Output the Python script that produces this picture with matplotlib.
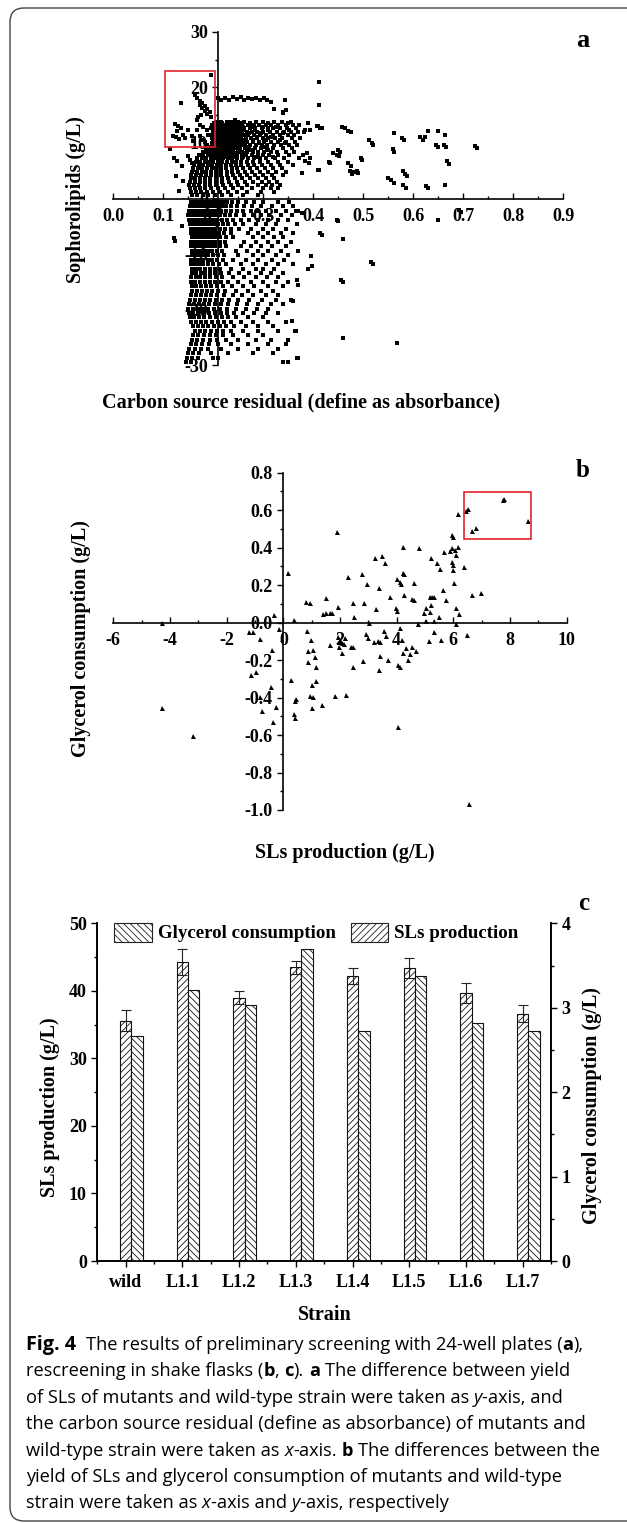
import numpy as np
import matplotlib
matplotlib.use('Agg')
import matplotlib.pyplot as plt
from matplotlib.patches import Rectangle, FancyBboxPatch
from matplotlib.transforms import IdentityTransform
from matplotlib.ticker import MultipleLocator, FormatStrFormatter

plt.rcParams['font.family'] = 'Liberation Serif'
plt.rcParams['font.weight'] = 'bold'
plt.rcParams['axes.unicode_minus'] = False
plt.rcParams['hatch.linewidth'] = 0.6

W, H = 627, 1523

# ---------------- panel a: rows of points (y, x values) ----------------
a_rows = [
    (13.8, [0.205, 0.215, 0.228, 0.236, 0.25, 0.262, 0.285, 0.30, 0.322, 0.338, 0.356]),
    (13.5, [0.201, 0.209, 0.218, 0.232, 0.244, 0.256, 0.274, 0.31, 0.35]),
    (13.2, [0.198, 0.203, 0.211, 0.219, 0.226, 0.233, 0.241, 0.249, 0.258, 0.27, 0.281, 0.292, 0.305, 0.316, 0.33, 0.345, 0.36, 0.372]),
    (12.9, [0.2, 0.207, 0.215, 0.224, 0.231, 0.238, 0.245, 0.252, 0.26, 0.277, 0.3, 0.326]),
    (12.6, [0.196, 0.202, 0.208, 0.214, 0.221, 0.228, 0.234, 0.24, 0.247, 0.254, 0.262, 0.273, 0.284, 0.297, 0.309, 0.32, 0.334, 0.348, 0.365]),
    (12.3, [0.202, 0.209, 0.216, 0.225, 0.232, 0.239, 0.246, 0.253, 0.262, 0.283, 0.31, 0.352]),
    (12.0, [0.199, 0.205, 0.211, 0.217, 0.223, 0.229, 0.236, 0.243, 0.25, 0.258, 0.267, 0.278, 0.288, 0.30, 0.313, 0.327, 0.341, 0.355, 0.37, 0.381]),
    (11.7, [0.201, 0.208, 0.214, 0.221, 0.228, 0.235, 0.242, 0.249, 0.257, 0.272, 0.296, 0.34]),
    (11.4, [0.196, 0.201, 0.207, 0.213, 0.219, 0.225, 0.232, 0.238, 0.245, 0.253, 0.261, 0.27, 0.282, 0.293, 0.306, 0.319, 0.333, 0.35, 0.362]),
    (11.1, [0.2, 0.207, 0.213, 0.22, 0.227, 0.233, 0.24, 0.247, 0.255, 0.266, 0.288, 0.315]),
    (10.8, [0.198, 0.204, 0.21, 0.216, 0.222, 0.228, 0.235, 0.241, 0.248, 0.256, 0.265, 0.276, 0.287, 0.299, 0.31, 0.324, 0.338, 0.357, 0.374]),
    (10.5, [0.202, 0.209, 0.215, 0.221, 0.227, 0.234, 0.241, 0.249, 0.258, 0.279, 0.305, 0.333]),
    (10.2, [0.20, 0.206, 0.212, 0.218, 0.224, 0.23, 0.237, 0.244, 0.251, 0.259, 0.268, 0.28, 0.291, 0.302, 0.316, 0.33, 0.346, 0.364]),
    (9.9, [0.199, 0.206, 0.212, 0.218, 0.225, 0.232, 0.239, 0.247, 0.262, 0.292, 0.344]),
    (9.6, [0.197, 0.203, 0.209, 0.215, 0.221, 0.227, 0.233, 0.24, 0.247, 0.255, 0.264, 0.274, 0.285, 0.297, 0.308, 0.322, 0.336, 0.352, 0.368]),
    (9.3, [0.195, 0.202, 0.208, 0.214, 0.221, 0.228, 0.235, 0.243, 0.251, 0.268, 0.3]),
    (9.0, [0.185, 0.192, 0.199, 0.205, 0.211, 0.217, 0.224, 0.231, 0.238, 0.246, 0.254, 0.263, 0.272, 0.283, 0.295, 0.307, 0.32, 0.34, 0.358]),
    (8.7, [0.196, 0.203, 0.21, 0.217, 0.224, 0.232, 0.24, 0.253, 0.276, 0.31]),
    (8.4, [0.18, 0.188, 0.196, 0.203, 0.21, 0.217, 0.224, 0.232, 0.24, 0.249, 0.258, 0.268, 0.279, 0.29, 0.302, 0.315, 0.328, 0.345, 0.362]),
    (8.1, [0.2, 0.207, 0.214, 0.221, 0.229, 0.237, 0.245, 0.262, 0.29]),
    (7.8, [0.172, 0.18, 0.19, 0.198, 0.206, 0.213, 0.221, 0.229, 0.238, 0.247, 0.257, 0.266, 0.277, 0.289, 0.30, 0.312, 0.33, 0.352, 0.38]),
    (7.5, [0.202, 0.21, 0.218, 0.226, 0.234, 0.243, 0.26, 0.285, 0.32]),
    (7.2, [0.168, 0.177, 0.186, 0.195, 0.203, 0.211, 0.22, 0.229, 0.238, 0.248, 0.258, 0.27, 0.281, 0.293, 0.306, 0.323, 0.341, 0.372]),
    (6.6, [0.165, 0.174, 0.183, 0.192, 0.20, 0.209, 0.218, 0.227, 0.237, 0.246, 0.256, 0.267, 0.28, 0.294, 0.31, 0.329, 0.35]),
    (6.0, [0.162, 0.171, 0.18, 0.189, 0.198, 0.207, 0.216, 0.226, 0.235, 0.245, 0.256, 0.269, 0.282, 0.297, 0.315, 0.334, 0.36]),
    (5.4, [0.16, 0.169, 0.178, 0.188, 0.197, 0.206, 0.216, 0.226, 0.237, 0.248, 0.26, 0.273, 0.288, 0.304, 0.32, 0.338]),
    (4.8, [0.158, 0.167, 0.177, 0.186, 0.196, 0.206, 0.216, 0.227, 0.238, 0.25, 0.263, 0.278, 0.294, 0.31, 0.326, 0.345]),
    (4.2, [0.156, 0.165, 0.175, 0.185, 0.195, 0.205, 0.216, 0.228, 0.24, 0.253, 0.268, 0.284, 0.30, 0.318, 0.34]),
    (3.6, [0.155, 0.164, 0.174, 0.184, 0.194, 0.205, 0.217, 0.23, 0.244, 0.258, 0.274, 0.29, 0.306, 0.322]),
    (3.0, [0.154, 0.163, 0.173, 0.183, 0.194, 0.205, 0.218, 0.232, 0.247, 0.263, 0.28, 0.298, 0.312, 0.328]),
    (2.4, [0.152, 0.162, 0.172, 0.183, 0.194, 0.206, 0.22, 0.235, 0.25, 0.268, 0.29, 0.305, 0.318, 0.333]),
    (1.8, [0.153, 0.163, 0.173, 0.184, 0.196, 0.209, 0.224, 0.24, 0.258, 0.278, 0.30, 0.315, 0.33]),
    (1.2, [0.155, 0.165, 0.176, 0.188, 0.20, 0.214, 0.23, 0.248, 0.268, 0.296, 0.322]),
    (0.6, [0.158, 0.168, 0.179, 0.19, 0.203, 0.218, 0.236, 0.26, 0.29]),
    (-0.6, [0.155, 0.163, 0.171, 0.179, 0.187, 0.195, 0.203, 0.211, 0.219, 0.228, 0.238, 0.25, 0.265, 0.282, 0.30, 0.33, 0.352]),
    (-1.4, [0.153, 0.161, 0.169, 0.177, 0.185, 0.193, 0.201, 0.209, 0.217, 0.226, 0.236, 0.248, 0.262, 0.278, 0.296, 0.318, 0.34, 0.36]),
    (-2.2, [0.152, 0.16, 0.168, 0.176, 0.184, 0.192, 0.20, 0.208, 0.216, 0.225, 0.235, 0.247, 0.26, 0.275, 0.29, 0.305, 0.325, 0.345, 0.37]),
    (-3.0, [0.15, 0.158, 0.166, 0.174, 0.182, 0.19, 0.198, 0.206, 0.214, 0.223, 0.233, 0.245, 0.262, 0.28, 0.296, 0.312, 0.335, 0.358]),
    (-3.8, [0.152, 0.16, 0.168, 0.176, 0.184, 0.192, 0.20, 0.208, 0.217, 0.227, 0.24, 0.256, 0.272, 0.29, 0.31, 0.33, 0.35]),
    (-4.6, [0.154, 0.162, 0.17, 0.178, 0.186, 0.194, 0.202, 0.21, 0.219, 0.23, 0.244, 0.26, 0.285, 0.305, 0.325, 0.368]),
    (-5.4, [0.156, 0.164, 0.172, 0.18, 0.188, 0.196, 0.204, 0.213, 0.223, 0.236, 0.252, 0.275, 0.30, 0.32, 0.345]),
    (-6.2, [0.155, 0.163, 0.171, 0.179, 0.187, 0.195, 0.203, 0.212, 0.222, 0.235, 0.27, 0.29, 0.31, 0.335, 0.36]),
    (-7.0, [0.157, 0.165, 0.173, 0.181, 0.189, 0.197, 0.205, 0.214, 0.225, 0.24, 0.28, 0.30, 0.322, 0.34]),
    (-7.8, [0.156, 0.164, 0.172, 0.18, 0.188, 0.196, 0.204, 0.213, 0.224, 0.262, 0.285, 0.31, 0.33, 0.355]),
    (-8.6, [0.155, 0.163, 0.171, 0.179, 0.187, 0.195, 0.204, 0.214, 0.226, 0.255, 0.275, 0.295, 0.318, 0.345]),
    (-9.4, [0.157, 0.165, 0.173, 0.181, 0.189, 0.198, 0.207, 0.218, 0.245, 0.268, 0.29, 0.31, 0.335, 0.37]),
    (-10.2, [0.158, 0.166, 0.174, 0.182, 0.19, 0.199, 0.209, 0.222, 0.25, 0.28, 0.30, 0.326, 0.35]),
    (-11.0, [0.156, 0.164, 0.172, 0.18, 0.189, 0.198, 0.208, 0.22, 0.24, 0.265, 0.29, 0.318, 0.342]),
    (-11.8, [0.155, 0.163, 0.171, 0.18, 0.19, 0.20, 0.211, 0.225, 0.255, 0.28, 0.305, 0.33, 0.36]),
    (-12.6, [0.157, 0.165, 0.174, 0.183, 0.193, 0.203, 0.214, 0.235, 0.26, 0.285, 0.30, 0.322]),
    (-13.4, [0.158, 0.166, 0.175, 0.184, 0.194, 0.204, 0.216, 0.232, 0.252, 0.272, 0.295, 0.315, 0.34]),
    (-14.2, [0.156, 0.165, 0.174, 0.184, 0.194, 0.205, 0.218, 0.24, 0.262, 0.285, 0.308, 0.33]),
    (-15.0, [0.155, 0.164, 0.173, 0.183, 0.193, 0.204, 0.216, 0.23, 0.25, 0.275, 0.30, 0.325, 0.35]),
    (-15.8, [0.157, 0.166, 0.175, 0.185, 0.196, 0.207, 0.22, 0.238, 0.26, 0.282, 0.31, 0.34]),
    (-16.6, [0.158, 0.167, 0.177, 0.187, 0.198, 0.21, 0.224, 0.245, 0.27, 0.295, 0.32]),
    (-17.4, [0.156, 0.165, 0.175, 0.185, 0.196, 0.208, 0.222, 0.24, 0.258, 0.28, 0.305, 0.33]),
    (-18.2, [0.154, 0.163, 0.173, 0.183, 0.194, 0.206, 0.218, 0.232, 0.25, 0.272, 0.298, 0.325, 0.355]),
    (-19.0, [0.152, 0.161, 0.171, 0.181, 0.192, 0.204, 0.216, 0.23, 0.248, 0.268, 0.29, 0.315, 0.34]),
    (-19.8, [0.15, 0.159, 0.169, 0.179, 0.19, 0.202, 0.214, 0.228, 0.245, 0.265, 0.288, 0.31]),
    (-20.6, [0.151, 0.16, 0.17, 0.18, 0.191, 0.203, 0.215, 0.228, 0.242, 0.26, 0.282, 0.305, 0.33]),
    (-21.4, [0.153, 0.162, 0.172, 0.182, 0.193, 0.205, 0.217, 0.23, 0.245, 0.27, 0.30]),
    (-22.2, [0.156, 0.165, 0.175, 0.186, 0.197, 0.209, 0.221, 0.235, 0.255, 0.28, 0.31, 0.345]),
    (-23.0, [0.16, 0.169, 0.179, 0.19, 0.201, 0.213, 0.226, 0.242, 0.265, 0.29, 0.32]),
    (-23.8, [0.163, 0.173, 0.184, 0.195, 0.207, 0.22, 0.236, 0.26, 0.29, 0.33, 0.365]),
    (-24.6, [0.16, 0.17, 0.181, 0.193, 0.206, 0.22, 0.24, 0.27, 0.30]),
    (-25.4, [0.158, 0.168, 0.18, 0.193, 0.208, 0.225, 0.25, 0.285, 0.315, 0.35]),
    (-26.2, [0.155, 0.166, 0.178, 0.192, 0.21, 0.235, 0.27, 0.31, 0.345]),
    (-27.0, [0.152, 0.163, 0.176, 0.19, 0.215, 0.25, 0.29, 0.33]),
    (-27.8, [0.15, 0.16, 0.172, 0.195, 0.23, 0.28, 0.32]),
    (-28.6, [0.148, 0.158, 0.17, 0.20, 0.21, 0.37]),
    (-29.4, [0.146, 0.156, 0.34, 0.35]),
]

# scattered points of panel a (outside the dense rows)
a_extra_x = [0.195, 0.412, 0.135, 0.163, 0.168, 0.173, 0.178, 0.183, 0.188, 0.193,
             0.173, 0.178, 0.183, 0.188, 0.195, 0.21, 0.216, 0.224, 0.231, 0.24,
             0.247, 0.255, 0.262, 0.27, 0.278, 0.286, 0.293, 0.301, 0.308, 0.316,
             0.343, 0.412, 0.322, 0.34, 0.345, 0.243, 0.339, 0.41, 0.414, 0.457,
             0.411, 0.431, 0.39, 0.123, 0.13, 0.135, 0.127, 0.12, 0.125, 0.132,
             0.14, 0.143, 0.15, 0.157, 0.16, 0.167, 0.173, 0.18, 0.187, 0.19,
             0.197, 0.197, 0.173, 0.177, 0.183, 0.188, 0.167, 0.17, 0.175, 0.113,
             0.121, 0.127, 0.137, 0.125, 0.14, 0.132, 0.15, 0.153, 0.157, 0.16,
             0.167, 0.383, 0.393, 0.407, 0.417, 0.44, 0.387, 0.393, 0.41, 0.377,
             0.433, 0.47, 0.383, 0.392, 0.463, 0.47, 0.475, 0.45, 0.453, 0.448,
             0.452, 0.47, 0.475, 0.495, 0.497, 0.473, 0.477, 0.481, 0.487, 0.49,
             0.512, 0.517, 0.52, 0.562, 0.577, 0.581, 0.559, 0.562, 0.55, 0.555,
             0.561, 0.579, 0.583, 0.587, 0.58, 0.585, 0.613, 0.619, 0.623, 0.629,
             0.649, 0.663, 0.645, 0.65, 0.661, 0.665, 0.668, 0.672, 0.625, 0.63,
             0.663, 0.723, 0.728, 0.447, 0.45, 0.649, 0.692, 0.695, 0.459, 0.515,
             0.519, 0.455, 0.459, 0.459, 0.568, 0.413, 0.395, 0.398, 0.39, 0.367,
             0.37, 0.36, 0.357, 0.363, 0.367, 0.365, 0.377, 0.417, 0.121, 0.123,
             0.137]
a_extra_y = [22.3, 20.9, 17.1, 18.6, 18.1, 17.6, 17.1, 16.6, 16.1, 15.6,
             16.8, 16.2, 15.7, 15.2, 14.6, 18.0, 17.8, 18.1, 17.7, 18.2,
             17.9, 18.3, 17.8, 18.1, 17.9, 18.0, 17.7, 18.1, 17.8, 17.4,
             17.7, 16.9, 16.1, 15.6, 15.9, 14.2, 15.4, 13.0, 12.6, 12.8,
             5.2, 6.5, 13.6, 13.4, 13.0, 12.7, 12.1, 11.3, 11.1, 10.7,
             11.5, 10.9, 12.4, 11.2, 10.3, 12.4, 13.3, 12.9, 12.4, 11.5,
             10.9, 10.0, 11.2, 10.6, 10.1, 9.7, 14.2, 14.7, 15.0, 8.9,
             7.3, 6.8, 5.8, 4.0, 3.1, 1.3, 7.7, 7.0, 6.4, 5.2,
             4.6, 12.4, 12.4, 13.0, 12.7, 8.2, 8.2, 7.3, 5.2, 4.6,
             6.4, 6.4, 6.7, 6.4, 12.6, 12.2, 11.9, 8.8, 8.3, 7.9,
             7.6, 6.3, 5.9, 7.3, 6.9, 4.9, 4.4, 4.7, 5.0, 4.6,
             10.5, 10.0, 9.6, 11.7, 10.9, 10.5, 8.9, 8.3, 3.7, 3.3,
             2.7, 4.9, 4.4, 4.0, 2.4, 1.9, 11.1, 10.6, 11.1, 12.1,
             12.2, 11.5, 9.7, 9.2, 9.7, 9.3, 6.7, 6.2, 2.2, 1.8,
             2.5, 9.5, 9.05, -3.8, -4.1, -3.9, -2.0, -2.5, -7.3, -11.4,
             -11.8, -14.6, -15.0, -25.1, -26.0, -6.2, -10.4, -12.2, -12.6, -14.6,
             -15.5, -18.5, -22.1, -23.9, -28.7, -2.2, -2.6, -6.6, -7.1, -7.7,
             -5.0]
a_box = (0.104, 9.3, 0.203, 22.9)   # highlighted region (x0, y0, x1, y1)

# ---------------- panel b ----------------
b_x = [-4.28, -4.28, -3.17, -1.21, -1.07, -0.82, -1.13, -0.96, -0.82, -0.75,
       -0.42, -0.40, -0.25, -0.35, -0.32, -0.16, 0.17, 0.38, 0.28, 0.42,
       0.45, 0.38, 0.42, 0.80, 0.95, 0.85, 0.87, 0.87, 0.99, 1.04,
       1.11, 1.16, 1.02, 1.04, 0.95, 1.02, 1.16, 1.37, 1.41, 1.51,
       1.65, 1.51, 1.72, 1.65, 1.83, 1.90, 1.93, 1.93, 2.00, 2.07,
       1.98, 2.07, 2.17, 2.14, 2.22, 2.29, 2.40, 2.45, 2.47, 2.50,
       2.47, 2.78, 2.85, 2.82, 2.95, 2.92, 2.99, 3.03, 3.20, 3.23,
       3.27, 3.34, 3.41, 3.39, 3.41, 3.39, 3.49, 3.56, 3.63, 3.60,
       3.70, 3.77, 3.98, 4.02, 4.02, 4.12, 4.16, 4.05, 4.12, 4.12,
       4.19, 4.22, 4.22, 4.26, 4.26, 4.23, 4.05, 4.33, 4.40, 4.47,
       4.54, 4.61, 4.54, 4.61, 4.68, 4.76, 4.80, 4.97, 5.04, 5.04,
       5.14, 5.18, 5.25, 5.32, 5.22, 5.22, 5.18, 5.32, 5.32, 5.43,
       5.50, 5.53, 5.56, 5.64, 5.67, 5.74, 5.88, 5.95, 5.95, 6.00,
       5.95, 6.00, 6.00, 6.02, 6.05, 6.10, 6.10, 6.10, 6.17, 6.17,
       6.21, 6.38, 6.45, 6.52, 6.49, 6.55, 6.66, 6.80, 6.66, 6.98,
       7.76, 7.77, 8.63]
b_y = [0.0, -0.457, -0.605, -0.048, -0.048, -0.089, -0.279, -0.261, -0.395, -0.471,
       -0.342, -0.146, -0.448, -0.528, 0.041, -0.036, 0.263, 0.014, -0.306, -0.42,
       -0.41, -0.49, -0.51, 0.112, 0.107, -0.043, -0.149, -0.208, -0.093, -0.146,
       -0.181, -0.235, -0.333, -0.398, -0.391, -0.457, -0.31, -0.439, 0.046, 0.053,
       0.05, 0.133, 0.05, -0.119, -0.391, 0.486, 0.085, -0.075, -0.093, -0.11,
       -0.128, -0.164, -0.084, -0.114, -0.386, 0.245, -0.128, -0.128, 0.107, 0.032,
       -0.235, 0.26, 0.107, -0.203, 0.205, -0.062, -0.084, 0.0, -0.101, 0.343,
       0.071, -0.098, -0.101, 0.183, -0.178, -0.253, 0.356, -0.044, -0.071, 0.317,
       -0.199, 0.139, 0.076, 0.064, 0.231, 0.215, 0.205, -0.226, -0.235, -0.03,
       -0.093, 0.406, 0.267, 0.258, 0.148, -0.164, -0.555, -0.133, -0.199, -0.167,
       0.126, 0.121, -0.132, 0.21, -0.149, -0.009, 0.40, 0.053, 0.076, 0.009,
       -0.098, 0.139, 0.139, 0.135, 0.343, 0.094, 0.059, 0.009, -0.048, 0.32,
       0.032, 0.285, -0.093, 0.174, 0.375, 0.121, 0.382, 0.40, 0.468, 0.459,
       0.326, 0.308, 0.281, 0.213, 0.388, 0.361, 0.076, -0.007, 0.406, 0.578,
       0.046, 0.299, 0.598, 0.605, -0.066, -0.968, 0.491, 0.503, 0.148, 0.157,
       0.655, 0.662, 0.544]
b_box = (6.38, 0.445, 8.73, 0.695)

# ---------------- panel c ----------------
strains = ['wild', 'L1.1', 'L1.2', 'L1.3', 'L1.4', 'L1.5', 'L1.6', 'L1.7']
sls_prod = [35.6, 44.25, 39.0, 43.47, 42.18, 43.4, 39.65, 36.6]
sls_err = [1.5, 1.9, 1.0, 0.95, 1.24, 1.5, 1.45, 1.25]
gly_cons = [2.668, 3.213, 3.036, 3.696, 2.72, 3.375, 2.814, 2.723]

caption = [
    [('Fig. 4', 'B'), ('  The results of preliminary screening with 24-well plates (', 'n'), ('a', 'b'), ('),', 'n')],
    [('rescreening in shake flasks (', 'n'), ('b', 'b'), (', ', 'n'), ('c', 'b'), ('). ', 'n'), ('a', 'b'),
     (' The difference between yield', 'n')],
    [('of SLs of mutants and wild-type strain were taken as ', 'n'), ('y', 'i'), ('-axis, and', 'n')],
    [('the carbon source residual (define as absorbance) of mutants and', 'n')],
    [('wild-type strain were taken as ', 'n'), ('x', 'i'), ('-axis. ', 'n'), ('b', 'b'),
     (' The differences between the', 'n')],
    [('yield of SLs and glycerol consumption of mutants and wild-type', 'n')],
    [('strain were taken as ', 'n'), ('x', 'i'), ('-axis and ', 'n'), ('y', 'i'), ('-axis, respectively', 'n')],
]

TICK = 13
LAB = 14.5

fig = plt.figure(figsize=(W / 100, H / 100), dpi=100)


def box(x0, y0, x1, y1):
    # pixel box with top-left origin -> figure rect
    return [x0 / W, 1 - y1 / H, (x1 - x0) / W, (y1 - y0) / H]


def ftext(x, y, s, **kw):
    return fig.text(x / W, 1 - y / H, s, **kw)


def style_cross_axes(ax):
    for s in ['top', 'right']:
        ax.spines[s].set_visible(False)
    for s in ['left', 'bottom']:
        ax.spines[s].set_linewidth(1.2)
    ax.patch.set_alpha(0)
    ax.tick_params(axis='x', which='both', direction='in', width=1.0, labelsize=TICK, pad=7)
    ax.tick_params(axis='y', which='both', direction='out', width=1.0, labelsize=TICK, pad=3)
    ax.tick_params(which='major', length=4.5)
    ax.tick_params(which='minor', length=2.5)


# ---- panel a ----
ax = fig.add_axes(box(113.3, 31.7, 563.3, 365.3))
ax_x = [x for y, xs in a_rows for x in xs] + a_extra_x
ax_y = [y for y, xs in a_rows for x in xs] + a_extra_y
ax.plot(ax_x, ax_y, 's', ms=2.5, mew=0, color='k', zorder=3, clip_on=False)
ax.set_xlim(0, 0.9)
ax.set_ylim(-30, 30)
ax.spines['left'].set_position(('data', 0.21))
ax.spines['bottom'].set_position(('data', 0))
ax.xaxis.set_major_locator(MultipleLocator(0.1))
ax.xaxis.set_minor_locator(MultipleLocator(0.05))
ax.xaxis.set_major_formatter(FormatStrFormatter('%.1f'))
ax.yaxis.set_major_locator(MultipleLocator(10))
ax.yaxis.set_minor_locator(MultipleLocator(5))
style_cross_axes(ax)
x0, y0, x1, y1 = a_box
ax.add_patch(Rectangle((x0, y0), x1 - x0, y1 - y0, fill=False, ec='#e3242b', lw=1.2, zorder=4))

ftext(76, 200, 'Sophorolipids (g/L)', rotation=90, ha='center', va='center', size=LAB)
ftext(301, 402, 'Carbon source residual (define as absorbance)', ha='center', va='center', size=LAB)
ftext(583, 46.7, 'a', ha='center', va='baseline', size=19)

# ---- panel b ----
bx = fig.add_axes(box(113.3, 472.7, 566.7, 810))
bx.plot(b_x, b_y, '^', ms=3.6, mew=0, color='k', zorder=3, clip_on=False)
bx.set_xlim(-6, 10)
bx.set_ylim(-1.0, 0.8)
bx.spines['left'].set_position(('data', 0))
bx.spines['bottom'].set_position(('data', 0))
bx.xaxis.set_major_locator(MultipleLocator(2))
bx.xaxis.set_minor_locator(MultipleLocator(1))
bx.xaxis.set_major_formatter(FormatStrFormatter('%d'))
bx.yaxis.set_major_locator(MultipleLocator(0.2))
bx.yaxis.set_minor_locator(MultipleLocator(0.1))
bx.yaxis.set_major_formatter(FormatStrFormatter('%.1f'))
style_cross_axes(bx)
x0, y0, x1, y1 = b_box
bx.add_patch(Rectangle((x0, y0), x1 - x0, y1 - y0, fill=False, ec='#e3242b', lw=1.2, zorder=4))

ftext(81, 639, 'Glycerol consumption (g/L)', rotation=90, ha='center', va='center', size=LAB)
ftext(345, 853, 'SLs production (g/L)', ha='center', va='center', size=LAB)
ftext(583, 476.7, 'b', ha='center', va='baseline', size=18)

# ---- panel c ----
cx = fig.add_axes(box(97.3, 923.3, 551, 1261))
cx2 = cx.twinx()
pos = np.arange(len(strains))
bw = 0.2
cx.bar(pos, sls_prod, bw, facecolor='white', edgecolor='#111111', lw=0.8, hatch='/////', zorder=2)
cx.errorbar(pos, sls_prod, yerr=sls_err, fmt='none', ecolor='#222222', elinewidth=0.8,
            capsize=3.5, capthick=0.8, zorder=3)
cx2.bar(pos + bw, gly_cons, bw, facecolor='white', edgecolor='#111111', lw=0.8, hatch='\\\\\\\\\\', zorder=2)
cx.set_xlim(-0.5, 7.5)
cx.set_ylim(0, 50)
cx2.set_ylim(0, 4)
cx.set_xticks(pos)
cx.set_xticklabels(strains)
cx.xaxis.set_minor_locator(MultipleLocator(0.5))
cx.yaxis.set_major_locator(MultipleLocator(10))
cx.yaxis.set_minor_locator(MultipleLocator(5))
cx2.yaxis.set_major_locator(MultipleLocator(1))
cx2.yaxis.set_minor_locator(MultipleLocator(0.5))
for a_ in (cx, cx2):
    a_.spines['top'].set_visible(False)
    for s in ['left', 'right', 'bottom']:
        a_.spines[s].set_linewidth(1.2)
    a_.tick_params(which='both', direction='out', width=1.0, labelsize=TICK)
    a_.tick_params(which='major', length=4.5)
    a_.tick_params(which='minor', length=2.5)
cx.tick_params(axis='y', pad=3)
cx.tick_params(axis='x', pad=5)
cx2.tick_params(axis='y', pad=3)

# legend drawn in figure pixels
for (lx0, lx1, tx, label, hatch) in [(114, 152, 158, 'Glycerol consumption', '\\\\\\\\\\'),
                                      (351, 388, 394, 'SLs production', '/////')]:
    r = box(lx0, 923.3, lx1, 942.3)
    fig.add_artist(Rectangle((r[0], r[1]), r[2], r[3], transform=fig.transFigure,
                             facecolor='white', edgecolor='#222222', lw=0.8, hatch=hatch))
    ftext(tx, 933, label, ha='left', va='center', size=13.6)

ftext(50, 1107, 'SLs production (g/L)', rotation=90, ha='center', va='center', size=LAB)
ftext(592, 1106, 'Glycerol consumption (g/L)', rotation=90, ha='center', va='center', size=LAB)
ftext(325, 1315, 'Strain', ha='center', va='center', size=LAB)
ftext(584, 910, 'c', ha='center', va='baseline', size=18)

# ---- caption ----
renderer = fig.canvas.get_renderer()
cap_font = 'Open Sans'
styles = {'n': dict(weight='normal', style='normal'),
          'b': dict(weight='bold', style='normal'),
          'i': dict(weight='normal', style='italic'),
          'B': dict(weight='bold', style='normal')}


def seg_width(s, size, st):
    t = fig.text(0, 0, s, family=cap_font, size=size, **styles[st])
    w = t.get_window_extent(renderer).width
    t.remove()
    return w


def draw_line(segs, x, base, size, draw=True):
    sp = seg_width('a a', size, 'n') - seg_width('aa', size, 'n')
    start = x
    for s, st in segs:
        sz = size * 1.08 if st == 'B' else size
        lead = len(s) - len(s.lstrip(' '))
        trail = len(s) - len(s.rstrip(' '))
        core = s.strip(' ')
        x += lead * sp
        if core:
            if draw:
                ftext(x, base, core, family=cap_font, size=sz, ha='left', va='baseline', **styles[st])
            x += seg_width(core, sz, st)
        x += trail * sp
    return x - start


# fit caption size so the first line spans like the reference
cap_size = 12.0
cap_size *= 557.0 / draw_line(caption[0], 26, 0, cap_size, draw=False)
for i, segs in enumerate(caption):
    draw_line(segs, 26, 1350 + i * 26.4, cap_size)

# rounded outer frame (right side runs off the page)
fig.add_artist(FancyBboxPatch((10, 2), 700, 1513, boxstyle='round,pad=0,rounding_size=14',
                              transform=IdentityTransform(), fill=False, ec='#444444', lw=1.0))

fig.savefig('out.png', dpi=100)
